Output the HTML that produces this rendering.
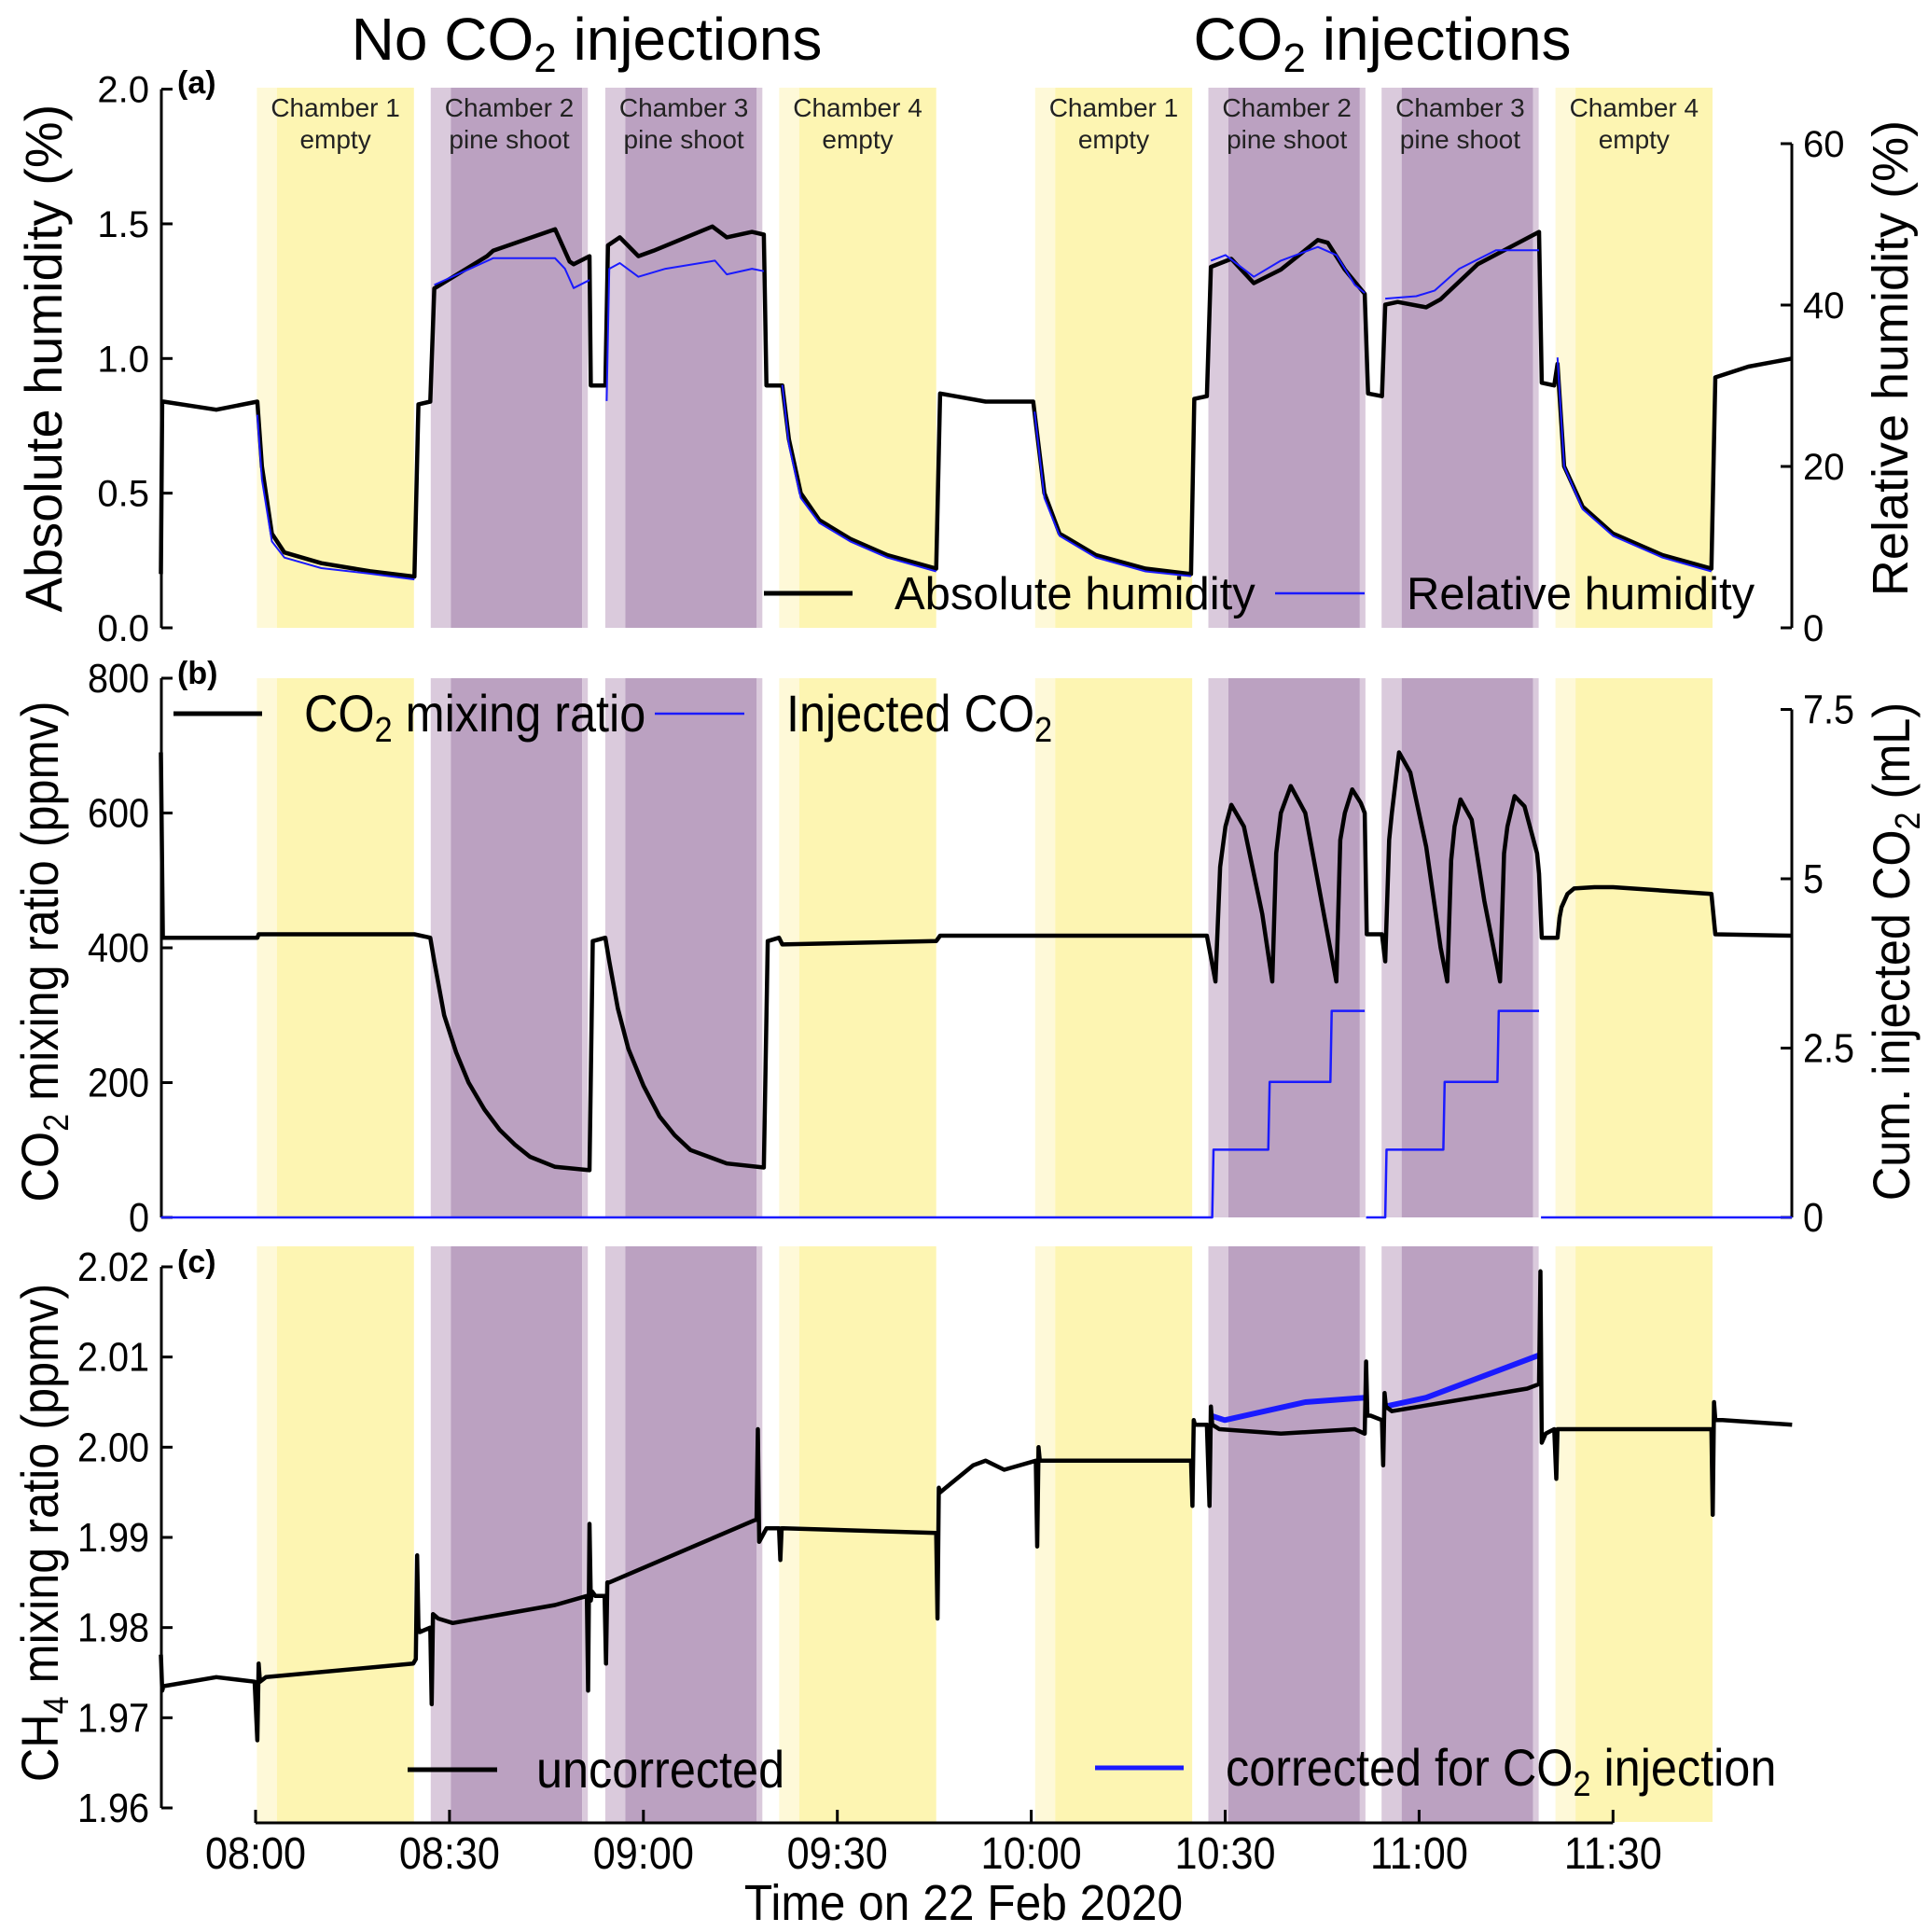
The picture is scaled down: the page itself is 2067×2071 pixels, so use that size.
<!DOCTYPE html>
<html><head><meta charset="utf-8"><title>Humidity, CO2 and CH4 mixing ratios</title>
<style>html,body{margin:0;padding:0;background:#fff}svg{display:block;font-family:"Liberation Sans",Arial,sans-serif}</style>
</head><body>
<svg id="chart" width="2067" height="2071" viewBox="0 0 2067 2071" xmlns="http://www.w3.org/2000/svg"></svg>
<script>
// ---------- data (time in minutes after 08:00) ----------
const bandStarts=[0.2,27.1,54.1,81.0,120.6,147.4,174.2,201.1];
const bandKinds=["empty","pine","pine","empty","empty","pine","pine","empty"];
const chamberNames=["Chamber 1","Chamber 2","Chamber 3","Chamber 4","Chamber 1","Chamber 2","Chamber 3","Chamber 4"];
const chamberContents=["empty","pine shoot","pine shoot","empty","empty","pine shoot","pine shoot","empty"];
const xTickTimes=[0,30,60,90,120,150,180,210];
const xTickLabels=["08:00","08:30","09:00","09:30","10:00","10:30","11:00","11:30"];

const ahTimes=[-14.65,-14.44,-14.24,-6.07,0.27,0.98,2.52,4.46,10.18,17.74,24.58,25.2,27.03,27.65,35.82,36.74,46.34,48.59,49.2,51.66,51.86,54.11,54.52,56.35,59.22,61.56,70.66,72.9,76.79,78.63,79.03,80.98,81.49,82.51,84.35,87.21,92.01,97.73,105.29,105.9,112.95,120.31,122.04,124.39,130.01,137.67,144.72,145.23,147.17,147.79,150.95,154.43,158.62,164.34,165.87,168.52,171.59,172.1,174.25,174.76,176.7,181.09,183.34,189.06,198.56,198.97,200.91,201.42,202.44,205.3,210.0,217.66,225.22,225.83,230.94,237.7];
const ahValues=[0.2,0.84,0.84,0.81,0.84,0.6,0.35,0.28,0.24,0.21,0.19,0.83,0.84,1.26,1.38,1.40,1.48,1.36,1.35,1.38,0.9,0.9,1.42,1.45,1.38,1.40,1.49,1.45,1.47,1.46,0.9,0.9,0.9,0.7,0.5,0.4,0.33,0.27,0.22,0.87,0.84,0.84,0.5,0.35,0.27,0.22,0.2,0.85,0.86,1.34,1.37,1.28,1.33,1.44,1.43,1.33,1.24,0.87,0.86,1.2,1.21,1.19,1.22,1.35,1.47,0.91,0.90,0.98,0.6,0.45,0.35,0.27,0.22,0.93,0.97,1.0];

const rhTimes=[0.27,0.98,2.52,4.46,10.18,17.74,24.58,null,27.65,33.98,36.74,46.34,47.87,49.2,51.66,null,54.31,54.72,56.35,59.22,63.4,71.07,72.9,76.79,78.63,null,81.49,82.51,84.35,87.21,92.01,97.73,105.29,null,120.51,122.04,124.39,130.01,137.67,144.72,null,147.79,150.04,154.43,158.62,164.34,167.2,170.06,171.59,null,174.76,179.56,182.42,186.2,191.92,198.56,null,201.42,202.44,205.3,210.0,217.66,225.22];
const rhValues=[26.4,18.4,10.7,8.7,7.4,6.7,6.0,null,42.5,44.8,45.8,45.8,44.5,42.1,43.1,null,28.1,44.5,45.2,43.5,44.5,45.5,43.8,44.5,44.2,null,30.1,22.7,16.1,13.0,10.7,8.7,7.0,null,26.8,16.1,11.4,8.7,7.0,6.4,null,45.5,46.2,43.5,45.5,47.2,46.2,42.5,41.5,null,40.8,41.1,41.8,44.5,46.8,46.8,null,33.5,20,14.7,11.4,8.7,7.0];

const co2Times=[-14.65,-14.34,0.27,0.47,24.58,27.03,27.65,29.18,31.02,32.96,35.41,37.76,40.11,42.46,46.34,51.66,52.17,54.11,54.72,56.05,57.68,60.03,62.48,64.83,67.29,72.9,78.63,79.24,80.98,81.49,105.29,105.9,147.17,148.5,149.22,150.04,150.95,152.9,155.75,157.29,157.9,158.62,160.15,162.4,165.26,167.2,167.81,168.52,169.65,170.98,171.59,171.9,174.25,174.76,175.37,175.78,176.9,178.64,181.09,183.34,184.36,184.97,185.48,186.4,188.14,190.08,192.53,193.15,193.66,194.78,196.31,198.26,198.56,198.97,201.42,201.73,202.04,202.96,203.98,207.15,210.0,225.22,225.83,237.7];
const co2Values=[690,415,415,420,420,415,380,300,245,200,160,130,108,90,75,70,410,415,380,310,250,195,150,122,100,80,74,410,415,405,410,418,418,350,520,580,612,580,450,350,540,600,640,600,450,350,560,600,635,615,600,420,420,380,560,600,690,660,550,400,350,530,580,620,590,470,350,540,580,625,610,540,510,415,415,445,460,480,488,490,490,480,420,418];

const injTimes=[-14.65,147.99,148.19,156.67,156.88,166.28,166.48,171.59,null,171.8,174.76,174.96,183.75,183.95,192.12,192.33,198.56,null,198.86,237.7];
const injValues=[0,0,1,1,2,2,3.05,3.05,null,0,0,1,1,2,2,3.05,3.05,null,0,0];

const ch4Times=[-14.65,-14.44,-14.24,-6.07,-0.14,0.27,0.47,0.68,1.6,24.38,24.79,24.99,25.2,25.4,27.03,27.24,27.44,28.26,30.51,46.34,51.25,51.45,51.66,51.86,52.06,52.57,54.0,54.21,54.41,54.72,77.5,77.71,77.91,79.03,80.98,81.18,81.38,81.69,105.29,105.5,105.7,105.9,111.01,112.95,115.81,120.71,120.92,121.12,121.33,122.45,144.72,144.93,145.13,145.33,147.17,147.58,147.79,147.99,149.11,158.62,170.06,171.59,171.8,172.0,172.2,172.51,174.25,174.45,174.66,174.86,175.78,196.72,198.56,198.77,198.97,199.58,200.91,201.22,201.42,202.04,225.22,225.43,225.63,225.83,226.96,237.7];
const ch4Values=[1.977,1.973,1.9735,1.9745,1.974,1.9675,1.976,1.974,1.9745,1.976,1.9765,1.988,1.980,1.9795,1.980,1.9715,1.9815,1.981,1.9805,1.9825,1.9835,1.973,1.9915,1.983,1.984,1.9835,1.9835,1.976,1.985,1.985,1.992,2.002,1.9895,1.991,1.991,1.9875,1.991,1.991,1.9905,1.981,1.9955,1.995,1.998,1.9985,1.9975,1.9985,1.989,2.000,1.9985,1.9985,1.9985,1.9935,2.003,2.0025,2.0025,1.9935,2.0045,2.0025,2.002,2.0015,2.002,2.0015,2.0095,2.0035,2.0035,2.0035,2.003,1.998,2.006,2.0045,2.004,2.0065,2.007,2.0195,2.0005,2.0015,2.002,1.9965,2.002,2.002,2.002,1.9925,2.005,2.003,2.003,2.0025];

const corrTimes=[147.79,149.93,162.4,171.59,null,174.66,181.09,198.56];
const corrValues=[2.0035,2.003,2.005,2.0055,null,2.0045,2.0055,2.0102];

const ahTicks=[0,0.5,1.0,1.5,2.0];
const ahTickLabels=["0.0","0.5","1.0","1.5","2.0"];
const rhTicks=[0,20,40,60];
const co2Ticks=[0,200,400,600,800];
const injTicks=[0,2.5,5,7.5];
const injTickLabels=["0","2.5","5","7.5"];
const ch4Ticks=[1.96,1.97,1.98,1.99,2.00,2.01,2.02];
const ch4TickLabels=["1.96","1.97","1.98","1.99","2.00","2.01","2.02"];

// ---------- geometry ----------
const NS="http://www.w3.org/2000/svg";
const svg=document.getElementById('chart');
const XL=173, XR=1921;
const xs=t=>274+t*6.93;
const yAH=v=>673-v*288.7;
const yRH=v=>673-v*(519/60);
const yCO2=v=>1305-v*0.7225;
const yINJ=v=>1305-v*72.6;
const yCH4=v=>1938-(v-1.96)*9667;
const panels=[{top:94,bot:673},{top:727,bot:1305},{top:1336,bot:1953}];

function mk(tag,attrs,parent){const e=document.createElementNS(NS,tag);for(const k in attrs)e.setAttribute(k,attrs[k]);(parent||svg).appendChild(e);return e;}
function pathD(ts,vs,fy){let d="",pen=false;for(let i=0;i<ts.length;i++){if(ts[i]===null||vs[i]===null){pen=false;continue;}d+=(pen?"L":"M")+xs(ts[i]).toFixed(1)+","+fy(vs[i]).toFixed(1);pen=true;}return d;}

// ---------- bands ----------
const bandDur=24.3, lead=3.1;
const bandG=mk('g',{});


panels.forEach((p,pi)=>{
 bandStarts.forEach((s,i)=>{
  const pine=bandKinds[i]==="pine";
  const light=pine?"#dacadc":"#fef9d8", dark=pine?"#bba1c1":"#fdf5b2";
  const x0=xs(s),x1=xs(s+bandDur),xl=xs(s+lead);
  const r1=mk('rect',{x:x0,y:p.top,width:xl-x0,height:p.bot-p.top,fill:light},bandG);
  
  
  const r2=mk('rect',{x:xl,y:p.top,width:x1-xl-(pine?6:0),height:p.bot-p.top,fill:dark},bandG);
  
  
  if(pine){const r3=mk('rect',{x:x1-6,y:p.top,width:6,height:p.bot-p.top,fill:light},bandG);
   
   }
 });
});
bandStarts.forEach((s,i)=>{
 const cx=xs(s+bandDur/2);
 const t1=mk('text',{x:cx,y:125,'font-size':28,'text-anchor':'middle',fill:'#222'});
 t1.textContent=chamberNames[i];
 
 
 const t2=mk('text',{x:cx,y:159,'font-size':28,'text-anchor':'middle',fill:'#222'});
 t2.textContent=chamberContents[i];
 
 
});

// ---------- axes ----------
function narrowText(x,y,str,anchor,size,name){
 const t=mk('text',{x:0,y:0,'font-size':size,'text-anchor':anchor,transform:`translate(${x},${y}) scale(0.9,1)`});
 t.textContent=str;
 
 
 return t;
}
function leftAxis(ticks,labels,fy,name,narrow){
 const g=mk('g',{stroke:'#000','stroke-width':3});
 
 
 mk('line',{x1:XL,x2:XL,y1:fy(ticks[0]),y2:fy(ticks[ticks.length-1])},g);
 ticks.forEach((v,i)=>{mk('line',{x1:XL,x2:XL+12,y1:fy(v),y2:fy(v)},g);
  if(narrow){narrowText(160,fy(v)+15,labels[i],'end',44,name+'-label');}
  else{const lab=mk('text',{x:160,y:fy(v)+14,'font-size':40,'text-anchor':'end'});
   lab.textContent=labels[i];}
 });
}
function rightAxis(ticks,labels,fy,name,narrow){
 const g=mk('g',{stroke:'#000','stroke-width':3});
 
 
 mk('line',{x1:XR,x2:XR,y1:fy(ticks[0]),y2:fy(ticks[ticks.length-1])},g);
 ticks.forEach((v,i)=>{mk('line',{x1:XR-12,x2:XR,y1:fy(v),y2:fy(v)},g);
  if(narrow){narrowText(1933,fy(v)+15,labels[i],'start',44,name+'-label');}
  else{const lab=mk('text',{x:1933,y:fy(v)+14,'font-size':40,'text-anchor':'start'});
   lab.textContent=labels[i];}
 });
}
leftAxis(ahTicks,ahTickLabels,yAH,'abs-humidity-axis',false);
rightAxis(rhTicks,rhTicks.map(String),yRH,'rel-humidity-axis',false);
leftAxis(co2Ticks,co2Ticks.map(String),yCO2,'co2-axis',true);
rightAxis(injTicks,injTickLabels,yINJ,'injected-co2-axis',true);
leftAxis(ch4Ticks,ch4TickLabels,yCH4,'ch4-axis',true);
// x axis
const xg=mk('g',{stroke:'#000','stroke-width':3});


mk('line',{x1:xs(xTickTimes[0]),x2:xs(xTickTimes[xTickTimes.length-1]),y1:1954,y2:1954},xg);
xTickTimes.forEach((t,i)=>{mk('line',{x1:xs(t),x2:xs(t),y1:1954,y2:1940},xg);
 narrowText(xs(t),2003,xTickLabels[i],'middle',48,'x-tick-label');});

// ---------- series ----------
function series(ts,vs,fy,color,w,name){const p=mk('path',{d:pathD(ts,vs,fy),fill:'none',stroke:color,'stroke-width':w,'stroke-linejoin':'round'});
 }
series(ahTimes,ahValues,yAH,'#000',4.5,'abs-humidity-line');
series(rhTimes,rhValues,yRH,'#1a1aff',2,'rel-humidity-line');
series(co2Times,co2Values,yCO2,'#000',4.5,'co2-line');
series(injTimes,injValues,yINJ,'#1a1aff',2.5,'injected-co2-line');
series(corrTimes,corrValues,yCH4,'#1a1aff',6,'ch4-corrected-line');
series(ch4Times,ch4Values,yCH4,'#000',4.5,'ch4-uncorrected-line');

// ---------- legends ----------
function legendLine(x1,x2,y,color,w,name){const l=mk('line',{x1:x1,x2:x2,y1:y,y2:y,stroke:color,'stroke-width':w});
 }
legendLine(819,914,636,'#000',5,'legend-abs-humidity-line');
legendLine(1367,1463,636,'#1a1aff',2.5,'legend-rel-humidity-line');
legendLine(186,281,765,'#000',5,'legend-co2-line');
legendLine(702,798,765,'#1a1aff',2.5,'legend-injected-line');
legendLine(437,533,1897,'#000',5,'legend-uncorrected-line');
legendLine(1174,1269,1895,'#1a1aff',5,'legend-corrected-line');
</script>
<svg style="position:absolute;left:0;top:0" width="2067" height="2071" font-family="Liberation Sans, Arial, sans-serif">
 <text x="629" y="64" font-size="64" text-anchor="middle">No CO<tspan font-size="44" dy="13">2</tspan><tspan dy="-13"> injections</tspan></text>
 <text x="1482" y="64" font-size="64" text-anchor="middle">CO<tspan font-size="44" dy="13">2</tspan><tspan dy="-13"> injections</tspan></text>
 <text x="190" y="100" font-size="34" font-weight="bold">(a)</text>
 <text x="190" y="733" font-size="34" font-weight="bold">(b)</text>
 <text x="190" y="1364" font-size="34" font-weight="bold">(c)</text>
 <text x="959" y="653" font-size="49">Absolute humidity</text>
 <text x="1508" y="653" font-size="49">Relative humidity</text>
 <text x="0" y="0" font-size="56" transform="translate(326,784) scale(0.9,1)">CO<tspan font-size="38" dy="11">2</tspan><tspan dy="-11"> mixing ratio</tspan></text>
 <text x="0" y="0" font-size="56" transform="translate(843,784) scale(0.9,1)">Injected CO<tspan font-size="38" dy="11">2</tspan></text>
 <text x="0" y="0" font-size="56" transform="translate(575,1916) scale(0.9,1)">uncorrected</text>
 <text x="0" y="0" font-size="56" transform="translate(1314,1914) scale(0.9,1)">corrected for CO<tspan font-size="38" dy="11">2</tspan><tspan dy="-11"> injection</tspan></text>
 <text x="0" y="0" font-size="56" text-anchor="middle" transform="translate(66,384) rotate(-90)">Absolute humidity (%)</text>
 <text x="0" y="0" font-size="56" text-anchor="middle" transform="translate(62,1020) rotate(-90) scale(0.9,1)">CO<tspan font-size="38" dy="11">2</tspan><tspan dy="-11"> mixing ratio (ppmv)</tspan></text>
 <text x="0" y="0" font-size="56" text-anchor="middle" transform="translate(62,1643) rotate(-90) scale(0.9,1)">CH<tspan font-size="38" dy="11">4</tspan><tspan dy="-11"> mixing ratio (ppmv)</tspan></text>
 <text x="0" y="0" font-size="54" text-anchor="middle" transform="translate(2045,384) rotate(-90)">Relative humidity (%)</text>
 <text x="0" y="0" font-size="56" text-anchor="middle" transform="translate(2047,1020) rotate(-90) scale(0.9,1)">Cum. injected CO<tspan font-size="38" dy="11">2</tspan><tspan dy="-11"> (mL)</tspan></text>
 <text x="0" y="0" font-size="54" text-anchor="middle" transform="translate(1033,2058) scale(0.92,1)">Time on 22 Feb 2020</text>
</svg>
</body></html>
